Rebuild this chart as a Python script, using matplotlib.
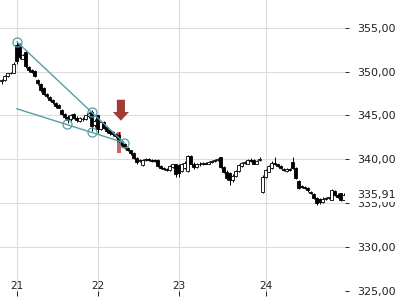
import matplotlib
matplotlib.use("Agg")
import matplotlib.pyplot as plt
from matplotlib.patches import Rectangle, FancyArrow
from matplotlib.ticker import FuncFormatter, FixedLocator

# ---- data (15-min candles) ----
opens = [348.9, 349.0, 349.5, 349.8, 349.9, 353.1, 353.2, 351.5, 352.3, 350.5,
         350.2, 350.1, 349.1, 348.6, 348.1, 347.4, 347.1, 346.8, 346.4, 346.2,
         345.6, 345.2, 344.8, 344.6, 345.2, 344.7, 344.4, 344.6, 344.6, 344.9,
         345.4, 343.9, 345.0, 343.5, 344.3, 343.7, 343.3, 343.1, 342.9, 342.8,
         342.1, 341.7, 341.3, 341.0, 340.7, 340.1, 339.8, 339.3, 339.9, 340.0,
         339.9, 339.9, 339.9, 339.2, 339.0, 338.9, 338.8, 339.1, 339.4, 339.3,
         338.7, 339.0, 338.7, 340.4, 339.5, 339.1, 339.5, 339.4, 339.6, 339.5,
         339.7, 339.8, 339.9, 340.2, 339.1, 338.6, 338.4, 337.6, 338.1, 338.7,
         339.2, 339.6, 339.5, 339.9, 339.9, 339.5, 339.9, 336.3, 338.0, 338.6,
         339.0, 339.6, 339.4, 339.2, 338.9, 338.7, 338.9, 339.7, 339.0, 337.5,
         336.9, 336.8, 336.7, 336.3, 336.0, 335.6, 335.5, 335.1, 335.5, 335.6,
         335.4, 336.4, 335.9, 336.1, 335.4]
highs = [349.2, 349.6, 349.9, 350.0, 351.1, 353.4, 353.3, 352.0, 352.5, 350.6,
         350.3, 350.2, 349.2, 348.7, 348.2, 347.6, 347.2, 346.9, 346.5, 346.3,
         345.7, 345.3, 345.0, 345.2, 345.3, 344.9, 344.8, 344.8, 345.1, 345.4,
         345.6, 344.6, 345.1, 344.4, 344.4, 343.8, 343.4, 343.2, 343.0, 343.1,
         342.2, 341.8, 341.4, 341.1, 340.8, 340.2, 340.0, 340.0, 340.1, 340.1,
         340.0, 340.0, 340.0, 339.3, 339.1, 339.0, 339.3, 339.5, 339.5, 339.4,
         339.6, 339.8, 340.5, 340.5, 339.7, 339.6, 339.7, 339.7, 339.7, 339.8,
         339.9, 340.0, 340.1, 340.3, 339.2, 338.8, 338.6, 338.3, 338.8, 339.4,
         339.7, 339.8, 340.0, 340.1, 340.0, 339.9, 340.2, 338.2, 338.9, 339.3,
         339.8, 340.2, 339.5, 339.3, 339.0, 339.0, 339.0, 340.2, 339.1, 337.6,
         337.1, 336.9, 336.8, 336.4, 336.1, 335.7, 335.6, 335.7, 335.7, 335.7,
         336.6, 336.5, 336.1, 336.2, 336.1]
lows = [348.6, 348.9, 349.4, 349.7, 349.8, 350.9, 351.5, 351.4, 350.4, 350.0,
        349.9, 349.4, 348.5, 347.7, 347.3, 347.0, 346.6, 346.3, 345.9, 345.8,
        345.0, 344.6, 344.1, 344.4, 344.6, 344.3, 344.3, 344.4, 344.5, 344.7,
        343.2, 343.7, 343.0, 343.3, 343.4, 343.0, 342.8, 342.7, 342.4, 341.9,
        341.4, 341.2, 340.9, 340.5, 340.0, 339.5, 339.7, 339.2, 339.8, 339.8,
        339.7, 339.7, 339.1, 338.9, 338.8, 338.7, 338.7, 339.0, 338.0, 338.0,
        338.6, 338.9, 338.6, 339.4, 338.9, 339.0, 339.2, 339.3, 339.4, 339.4,
        339.6, 339.7, 339.8, 339.0, 338.4, 337.6, 337.1, 337.4, 338.0, 338.6,
        339.1, 339.4, 339.4, 339.7, 339.4, 339.4, 339.8, 336.2, 337.9, 338.5,
        338.9, 339.3, 339.1, 338.9, 338.7, 338.6, 338.7, 338.9, 337.8, 336.6,
        336.7, 336.6, 336.3, 336.0, 335.5, 334.8, 334.9, 335.0, 335.4, 335.5,
        335.3, 335.8, 335.6, 335.2, 335.3]
closes = [349.0, 349.5, 349.8, 349.9, 350.9, 351.2, 351.7, 351.9, 350.6, 350.2,
          350.0, 349.5, 348.7, 347.9, 347.5, 347.2, 346.8, 346.5, 346.1, 345.9,
          345.2, 344.8, 344.5, 345.1, 344.7, 344.5, 344.7, 344.6, 345.0, 345.3,
          343.8, 344.4, 343.4, 344.2, 343.6, 343.2, 343.0, 342.9, 342.6, 342.1,
          341.6, 341.4, 341.0, 340.7, 340.1, 339.7, 339.9, 339.9, 340.0, 339.9,
          339.8, 339.8, 339.2, 339.0, 338.9, 338.8, 339.2, 339.4, 338.3, 338.4,
          339.5, 339.6, 340.4, 339.5, 339.1, 339.5, 339.4, 339.6, 339.5, 339.7,
          339.8, 339.9, 340.0, 339.1, 338.5, 337.9, 337.6, 338.1, 338.7, 339.3,
          339.6, 339.7, 339.9, 339.8, 339.5, 339.8, 340.0, 338.0, 338.8, 339.2,
          339.6, 339.4, 339.2, 339.0, 338.8, 338.9, 338.8, 339.0, 337.9, 336.7,
          336.8, 336.7, 336.5, 336.1, 335.6, 335.0, 335.1, 335.5, 335.6, 335.6,
          336.5, 335.9, 335.7, 335.4, 335.91]

day_tick_idx = [5, 32, 59, 88]
day_labels = ["21", "22", "23", "24"]
y_ticks = [325, 330, 335, 340, 345, 350, 355]
last_price = 335.91

# trend-line annotation points (candle index, price)
upper_line_x = [5.17, 40.8]
upper_line_y = [353.40, 341.9]
lower_line_x = [5.17, 40.8]
lower_line_y = [345.76, 341.9]
circle_x = [5.17, 30.17, 21.83, 30.17, 40.8]
circle_y = [353.40, 345.42, 344.05, 343.14, 341.9]

signal_idx = 39
signal_low, signal_high = 340.7, 343.1
arrow_top, arrow_bottom = 346.8, 344.4

# ---- figure ----
fig = plt.figure(figsize=(4, 3), dpi=100)
ax = fig.add_axes([0.0, 0.03, 345 / 400, 0.97])

n = len(closes)
xs = list(range(n))
ax.set_xlim(-0.5, n - 0.5)
ax.set_ylim(324.95, 358.19)

grid_c = "#dcdcdc"
for v in y_ticks:
    ax.axhline(v, color=grid_c, lw=0.8, zorder=0)
for v in day_tick_idx:
    ax.axvline(v, color=grid_c, lw=0.8, zorder=0)

# highlight bar
ax.add_patch(Rectangle((signal_idx - 0.5, signal_low), 1.3, signal_high - signal_low,
                       facecolor="#c8534e", edgecolor="none", alpha=0.9, zorder=1))

# candles
ax.vlines(xs, lows, highs, color="black", lw=0.7, zorder=2)
bottoms = [min(o, c) for o, c in zip(opens, closes)]
heights = [max(abs(c - o), 0.04) for o, c in zip(opens, closes)]
faces = ["white" if c >= o else "black" for o, c in zip(opens, closes)]
ax.bar(xs, heights, bottom=bottoms, width=0.68, color=faces,
       edgecolor="black", linewidth=0.6, zorder=3)

# trend lines
teal = "#559fa9"
ax.plot(upper_line_x, upper_line_y, color=teal, lw=1.0, zorder=4)
ax.plot(lower_line_x, lower_line_y, color=teal, lw=1.0, zorder=4)
ax.plot(circle_x, circle_y, ls="none", marker="o", ms=6.5, mfc="none",
        mec=teal, mew=0.9, zorder=5)

# arrow
head_len = 1.0
ax.add_patch(FancyArrow(signal_idx + 0.8, arrow_top, 0, -(arrow_top - arrow_bottom - head_len),
                        width=2.7, head_width=5.4, head_length=head_len,
                        length_includes_head=False, color="#a33a35", lw=0, zorder=6))

for s in ax.spines.values():
    s.set_visible(False)

# y axis on right
ax.yaxis.tick_right()
ax.yaxis.set_major_locator(FixedLocator(y_ticks))
ax.yaxis.set_major_formatter(FuncFormatter(lambda v, p: f"{v:.2f}".replace(".", ",")))
ax.tick_params(axis="y", direction="out", length=3, width=0.7, pad=5.5,
               labelsize=8, colors="#222222")

# x axis labels inside
ax.xaxis.set_major_locator(FixedLocator(day_tick_idx))
ax.set_xticklabels(day_labels)
ax.tick_params(axis="x", direction="out", length=3.5, width=0.7, pad=-11,
               labelsize=7.5, colors="#222222")

ax.annotate(f"{last_price:.2f}".replace(".", ","), xy=(1.0, last_price),
            xycoords=("axes fraction", "data"), xytext=(8.6, 0),
            textcoords="offset points", ha="left", va="center", fontsize=8,
            color="#222222", annotation_clip=False,
            bbox=dict(boxstyle="square,pad=0.15", fc="white", ec="none"))

fig.savefig("out.png", dpi=100)
